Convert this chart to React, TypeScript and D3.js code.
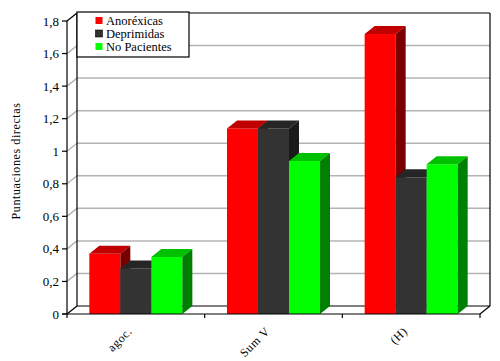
import React from "react";
import * as d3 from "d3";

const categories = ["agoc.", "Sum V", "(H)"];
const seriesNames = ["Anoréxicas", "Deprimidas", "No Pacientes"];
const anorexicas = [0.37, 1.14, 1.72];
const deprimidas = [0.28, 1.14, 0.84];
const noPacientes = [0.35, 0.94, 0.92];
const yTicks = [0, 0.2, 0.4, 0.6, 0.8, 1, 1.2, 1.4, 1.6, 1.8];

const seriesValues = [anorexicas, deprimidas, noPacientes];
const fronts = ["#ff0000", "#333333", "#00ff00"];
const tops = ["#c00000", "#262626", "#00c000"];
const sides = ["#7a0000", "#1a1a1a", "#008000"];

const font = "Liberation Serif";

export default function App() {
  const width = 500;
  const height = 361;
  const left = 67;
  const right = 480;
  const bottom = 314;
  const top = 21;
  const dx = 10;
  const dy = -8;

  const y = d3.scaleLinear().domain([0, 1.8]).range([bottom, top]);
  const x0 = d3.scaleBand().domain(categories).range([left, right]).padding(0);
  const x1 = d3
    .scaleBand()
    .domain(seriesNames)
    .range([0, x0.bandwidth()])
    .paddingInner(0)
    .paddingOuter(0.72);
  const bw = x1.bandwidth();

  const fmt = (v: number) => String(+v.toFixed(1)).replace(".", ",");

  return (
    <svg
      width={width}
      height={height}
      style={{ position: "absolute", left: 0, top: 0, background: "#fff" }}
    >
      {/* back wall grid */}
      {yTicks.slice(1, -1).map((t) => (
        <g key={t} stroke="#b4b4b4" strokeWidth={1.5}>
          <line x1={left} y1={y(t)} x2={left + dx} y2={y(t) + dy} />
          <line x1={left + dx} y1={y(t) + dy} x2={right + dx} y2={y(t) + dy} />
        </g>
      ))}
      {/* back wall frame */}
      <g stroke="#000" strokeWidth={1.2} fill="none">
        <line x1={left + dx} y1={y(1.8) + dy} x2={right + dx} y2={y(1.8) + dy} />
        <line x1={left + dx} y1={y(1.8) + dy} x2={left + dx} y2={bottom + dy} />
        <line x1={right + dx} y1={y(1.8) + dy} x2={right + dx} y2={bottom + dy} />
        <line x1={left + dx} y1={bottom + dy} x2={right + dx} y2={bottom + dy} />
        <line x1={left} y1={bottom} x2={left + dx} y2={bottom + dy} />
        <line x1={right} y1={bottom} x2={right + dx} y2={bottom + dy} />
        <line x1={left} y1={y(1.8)} x2={left + dx} y2={y(1.8) + dy} />
      </g>
      {/* bars */}
      {categories.map((c, ci) => (
        <g key={c}>
          {seriesNames.map((s, si) => {
            const v = seriesValues[si][ci];
            const bx = (x0(c) as number) + (x1(s) as number);
            const by = y(v);
            return (
              <g key={s}>
                <rect x={bx} y={by} width={bw} height={bottom - by} fill={fronts[si]} />
                <polygon
                  points={`${bx},${by} ${bx + dx},${by + dy} ${bx + bw + dx},${by + dy} ${bx + bw},${by}`}
                  fill={tops[si]}
                />
                <polygon
                  points={`${bx + bw},${by} ${bx + bw + dx},${by + dy} ${bx + bw + dx},${bottom + dy} ${bx + bw},${bottom}`}
                  fill={sides[si]}
                />
              </g>
            );
          })}
        </g>
      ))}
      {/* front axes */}
      <g stroke="#000" strokeWidth={1.2}>
        <line x1={left} y1={top} x2={left} y2={bottom + 4} />
        <line x1={left - 5} y1={bottom} x2={right} y2={bottom} />
        {yTicks.map((t) => (
          <line key={t} x1={left - 5} y1={y(t)} x2={left} y2={y(t)} />
        ))}
        {categories.map((c) => (
          <line
            key={c}
            x1={(x0(c) as number) + x0.bandwidth()}
            y1={bottom}
            x2={(x0(c) as number) + x0.bandwidth()}
            y2={bottom + 4}
          />
        ))}
      </g>
      {yTicks.map((t) => (
        <text
          key={t}
          x={59}
          y={y(t)}
          dy="0.35em"
          textAnchor="end"
          fontSize={13}
          fontFamily={font}
        >
          {fmt(t)}
        </text>
      ))}
      {categories.map((c) => {
        const cx = (x0(c) as number) + x0.bandwidth() / 2 - 3;
        return (
          <text
            key={c}
            transform={`translate(${cx},${332}) rotate(-45)`}
            textAnchor="end"
            fontSize={12}
            letterSpacing={0.6}
            fontFamily={font}
          >
            {c}
          </text>
        );
      })}
      <text
        transform={`translate(20,${161}) rotate(-90)`}
        textAnchor="middle"
        fontSize={12}
        letterSpacing={0.6}
        fontFamily={font}
      >
        Puntuaciones directas
      </text>
      {/* legend */}
      <rect x={77} y={12} width={112} height={45} fill="#fff" stroke="#000" strokeWidth={1.2} />
      {seriesNames.map((s, i) => (
        <g key={s}>
          <rect
            x={95.5}
            y={17 + i * 13}
            width={7}
            height={7}
            fill={fronts[i]}
            stroke={i === 1 ? "#000" : "none"}
            strokeWidth={0.6}
          />
          <text x={106} y={21 + i * 13} dy="0.35em" fontSize={12.5} fontFamily={font}>
            {s}
          </text>
        </g>
      ))}
    </svg>
  );
}
